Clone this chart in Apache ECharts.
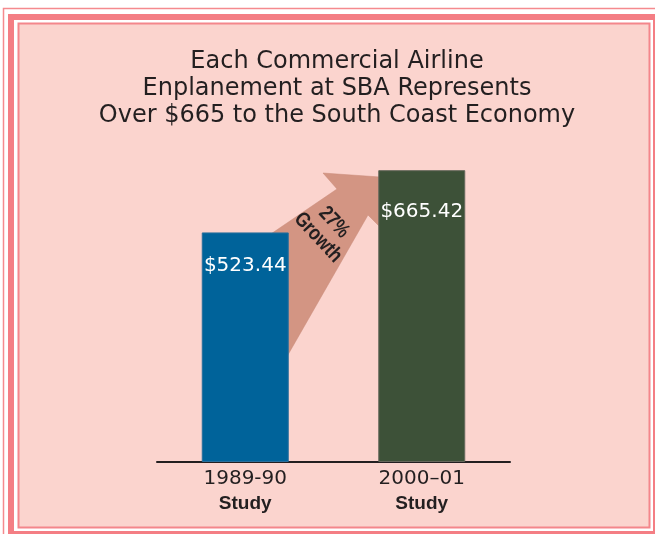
<!DOCTYPE html>
<html><head><meta charset="utf-8">
<script src="https://cdn.jsdelivr.net/npm/echarts@6/dist/echarts.min.js"></script>
<style>html,body{margin:0;padding:0;background:#fff}#c{width:655px;height:534px}</style>
</head><body><div id="c"></div>
<script>
var titleLines = ['Each Commercial Airline', 'Enplanement at SBA Represents', 'Over $665 to the South Coast Economy'];
var categories = ['1989-90', '2000\u201301'];
var categorySub = ['Study', 'Study'];
var values = [523.44, 665.42];
var valueLabels = ['$523.44', '$665.42'];
var growthText = ['27%', 'Growth'];

var barColors = ['#00639a', '#3d5138'];
var barBorders = ['#2a6f9c', '#66695c'];
var labelDist = [23, 32];
var FONT = 'DejaVu Sans';
var FONT2 = 'Liberation Sans';

var chart = echarts.init(document.getElementById('c'), null, {renderer: 'canvas'});
var data = values.map(function (v, i) {
  return {
    value: v,
    itemStyle: {color: barColors[i], borderColor: barBorders[i], borderWidth: 1},
    label: {distance: labelDist[i], formatter: valueLabels[i]}
  };
});

chart.setOption({
  backgroundColor: '#ffffff',
  animation: false,
  title: {
    text: titleLines.join('\n'),
    left: 337, top: 48, textAlign: 'center', padding: 0,
    textStyle: {fontFamily: FONT, fontSize: 24, fontWeight: 'normal', color: '#231f20', lineHeight: 27}
  },
  grid: {left: 157, right: 145, top: 155, bottom: 72},
  xAxis: {
    type: 'category', data: categories,
    axisLine: {lineStyle: {color: '#231f20', width: 2}},
    axisTick: {show: false},
    axisLabel: {
      margin: 5,
      formatter: function (v, i) { return '{a|' + v + '}\n{b|' + categorySub[i] + '}'; },
      rich: {
        a: {fontFamily: FONT, fontSize: 20, color: '#231f20', lineHeight: 24},
        b: {fontFamily: FONT2, fontSize: 19, fontWeight: 'bold', color: '#231f20', lineHeight: 25}
      }
    }
  },
  yAxis: {type: 'value', min: 0, max: 700, show: false, splitLine: {show: false}},
  graphic: [
    {type: 'rect', z: 0, silent: true, shape: {x: 3.5, y: 8.5, width: 700, height: 600},
      style: {fill: '#ffffff', stroke: '#f58a8e', lineWidth: 1.5}},
    {type: 'rect', z: 0, silent: true, shape: {x: 11, y: 17, width: 645, height: 517},
      style: {fill: '#ffffff', stroke: '#f47e84', lineWidth: 6}},
    {type: 'rect', z: 0, silent: true, shape: {x: 18.5, y: 23.5, width: 631, height: 504},
      style: {fill: '#fbd4ce', stroke: '#f4868b', lineWidth: 2}},
    {type: 'polygon', z: 1, silent: true,
      shape: {points: [[262, 240], [337, 189], [323, 173], [380, 177], [380, 227], [368, 215], [289, 353], [262, 400]]},
      style: {fill: '#d39583', stroke: '#c98a79', lineWidth: 0.5}},
    {type: 'text', z: 5, silent: true, x: 326, y: 230, rotation: -47 * Math.PI / 180, scaleX: 0.82,
      style: {text: growthText.join('\n'), fontFamily: FONT2, fontSize: 21, fontWeight: 'bold',
        fill: '#231f20', align: 'center', verticalAlign: 'middle', lineHeight: 22}}
  ],
  series: [{
    type: 'bar', z: 2, data: data, barWidth: 87,
    label: {show: true, position: 'insideTop', color: '#ffffff', fontFamily: FONT, fontSize: 20}
  }]
});
</script></body></html>
